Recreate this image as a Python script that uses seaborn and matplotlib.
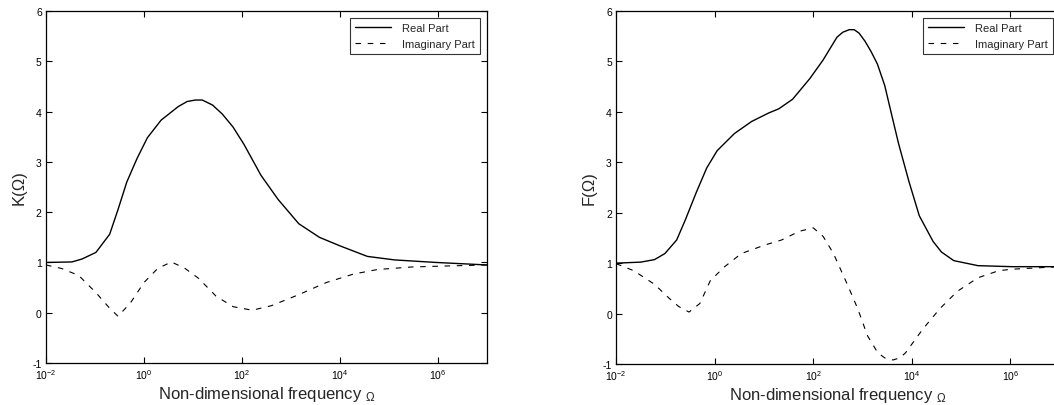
import numpy as np
import pandas as pd
import seaborn as sns
from matplotlib import pyplot as plt
from matplotlib import ticker

# values (log10 of frequency, value)
k_real_logx = [-2, -1.47, -1.26, -0.98, -0.7, -0.53, -0.35, -0.14, 0.07, 0.35, 0.7, 0.88,
               1.05, 1.19, 1.4, 1.6, 1.82, 2.04, 2.39, 2.74, 3.16, 3.58, 4.0, 4.56, 5.12,
               5.96, 7.0]
k_real = [1.0, 1.01, 1.07, 1.2, 1.56, 2.05, 2.6, 3.07, 3.48, 3.83, 4.1, 4.2,
          4.23, 4.23, 4.13, 3.95, 3.69, 3.35, 2.73, 2.25, 1.77, 1.5, 1.33, 1.12, 1.05,
          1.0, 0.95]
k_imag_logx = [-2, -1.68, -1.33, -0.98, -0.7, -0.53, -0.28, 0.0, 0.28, 0.56, 0.84, 1.12,
               1.47, 1.82, 2.21, 2.6, 3.16, 3.72, 4.28, 4.77, 5.47, 6.18, 7.0]
k_imag = [0.95, 0.88, 0.74, 0.40, 0.09, -0.07, 0.19, 0.6, 0.88, 1.01, 0.88, 0.68,
          0.33, 0.12, 0.05, 0.14, 0.36, 0.6, 0.77, 0.86, 0.91, 0.93, 0.95]

f_real_logx = [-2, -1.5, -1.22, -1.01, -0.77, -0.59, -0.37, -0.16, 0.05, 0.4, 0.75, 1.1,
               1.3, 1.58, 1.93, 2.2, 2.48, 2.6, 2.73, 2.83, 2.93, 3.05, 3.17, 3.3, 3.45,
               3.6, 3.73, 3.94, 4.15, 4.43, 4.6, 4.85, 5.34, 6.03, 7.0]
f_real = [1.0, 1.02, 1.07, 1.19, 1.46, 1.87, 2.41, 2.89, 3.23, 3.57, 3.81, 3.98,
          4.06, 4.25, 4.66, 5.03, 5.48, 5.58, 5.63, 5.63, 5.56, 5.4, 5.2, 4.95, 4.52,
          3.9, 3.37, 2.62, 1.94, 1.43, 1.22, 1.05, 0.95, 0.93, 0.93]
f_imag_logx = [-2, -1.64, -1.22, -0.93, -0.73, -0.52, -0.3, -0.09, 0.19, 0.54, 1.02, 1.36,
               1.71, 2.0, 2.2, 2.41, 2.69, 2.9, 3.1, 3.31, 3.45, 3.62, 3.75, 3.87, 4.22,
               4.57, 4.92, 5.34, 5.76, 6.03, 7.0]
f_imag = [0.99, 0.85, 0.58, 0.31, 0.14, 0.03, 0.2, 0.65, 0.92, 1.19, 1.36, 1.46,
          1.63, 1.7, 1.53, 1.19, 0.58, 0.1, -0.44, -0.78, -0.88, -0.92, -0.88, -0.78,
          -0.31, 0.1, 0.44, 0.71, 0.85, 0.88, 0.93]

sns.set_theme(style="ticks")
plt.rcParams['font.family'] = ['Liberation Sans', 'DejaVu Sans']
plt.rcParams['mathtext.fontset'] = 'custom'
plt.rcParams['mathtext.rm'] = 'Liberation Sans'
plt.rcParams['mathtext.it'] = 'Liberation Sans'
plt.rcParams['axes.unicode_minus'] = False
plt.rcParams['xtick.direction'] = 'in'
plt.rcParams['ytick.direction'] = 'in'


def make_df(logx, vals):
    return pd.DataFrame({"freq": 10.0 ** np.array(logx), "val": vals})


fig = plt.figure(figsize=(10.54, 4.06), dpi=100)
ax1 = fig.add_axes([0.0436, 0.1034, 0.4184, 0.8670])
ax2 = fig.add_axes([0.5845, 0.1010, 0.4210, 0.8694])

panels = [
    (ax1, k_real_logx, k_real, k_imag_logx, k_imag, "K(Ω)"),
    (ax2, f_real_logx, f_real, f_imag_logx, f_imag, "F(Ω)"),
]

for ax, rx, ry, ix, iy, ylab in panels:
    sns.lineplot(data=make_df(rx, ry), x="freq", y="val", ax=ax, color="black",
                 lw=1.0, sort=False, label="Real Part")
    sns.lineplot(data=make_df(ix, iy), x="freq", y="val", ax=ax, color="black",
                 lw=0.8, sort=False, label="Imaginary Part")
    ax.lines[1].set_dashes((5, 6))
    ax.set_xscale("log")
    ax.set_xlim(1e-2, 1e7)
    ax.set_ylim(-1, 6)
    ax.xaxis.set_major_locator(ticker.FixedLocator([1e-2, 1e0, 1e2, 1e4, 1e6]))
    ax.xaxis.set_major_formatter(ticker.LogFormatterMathtext())
    ax.xaxis.set_minor_locator(ticker.NullLocator())
    ax.set_yticks(range(-1, 7))
    ax.tick_params(axis="both", which="major", labelsize=7.5, length=4, width=0.8,
                   top=True, right=True, pad=3, colors="black")
    for s in ax.spines.values():
        s.set_linewidth(0.9)
        s.set_color("black")
    ax.set_xlabel(r"Non-dimensional frequency $_\Omega$", fontsize=12, labelpad=2)
    ax.set_ylabel(ylab, fontsize=12, labelpad=4)
    leg = ax.legend(loc="upper right", fontsize=8, frameon=True, fancybox=False,
                    edgecolor="black", borderpad=0.5, handlelength=3.2,
                    handletextpad=1.0, borderaxespad=0.6, labelspacing=0.5)
    leg.get_frame().set_linewidth(0.8)

fig.savefig("out.png", dpi=100, facecolor="white")
